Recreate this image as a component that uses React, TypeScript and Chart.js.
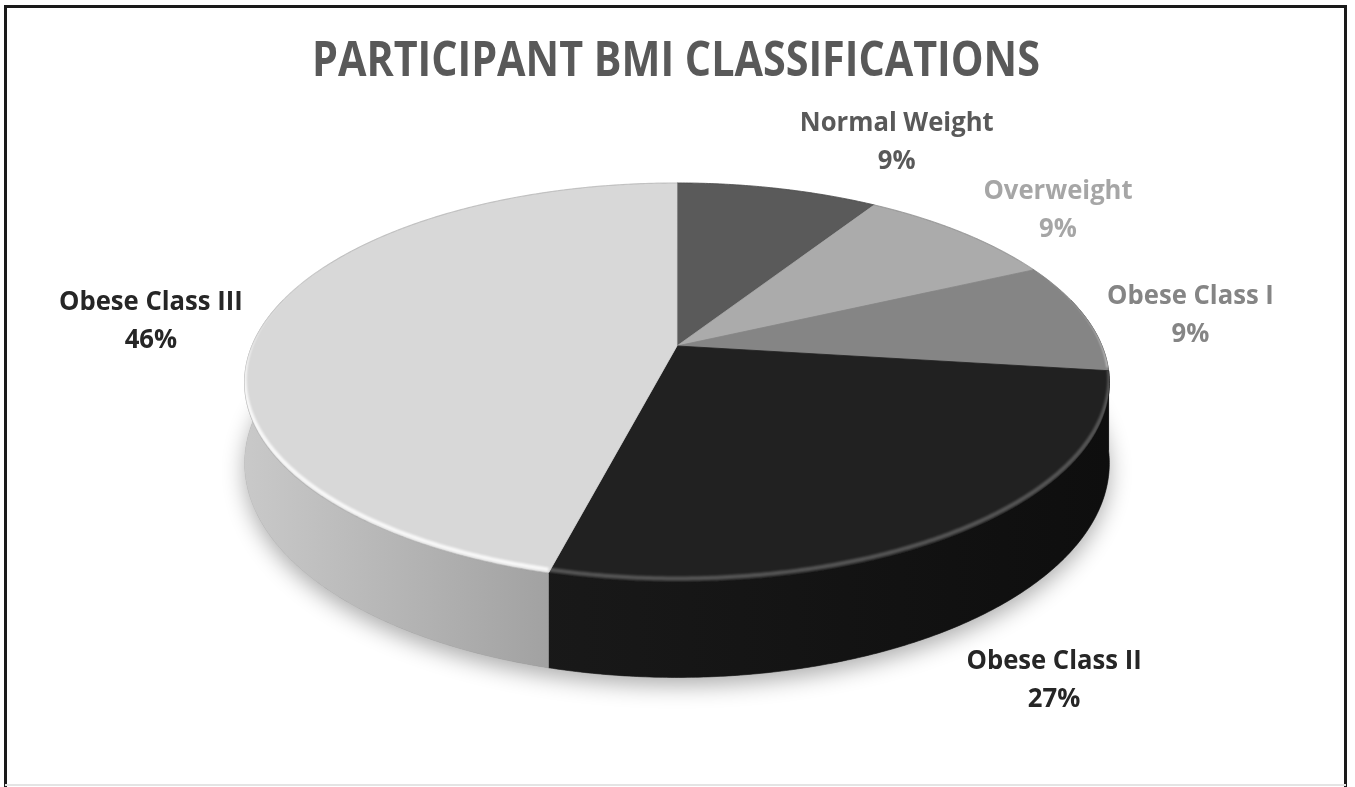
import React, { useEffect, useRef } from "react";
import { Chart, registerables } from "chart.js";

Chart.register(...registerables);

const TITLE = "PARTICIPANT BMI CLASSIFICATIONS";
const categories = ["Normal Weight", "Overweight", "Obese Class I", "Obese Class II", "Obese Class III"];
const percentages = [9, 9, 9, 27, 46];
const sliceColors = ["#5a5a5a", "#ababab", "#858585", "#212121", "#d8d8d8"];
const labelColors = ["#595959", "#a6a6a6", "#858585", "#262626", "#262626"];

const FONT = '"Open Sans", "Noto Sans", sans-serif';

function hexToRgb(h: string) {
  const n = parseInt(h.slice(1), 16);
  return [(n >> 16) & 255, (n >> 8) & 255, n & 255];
}
function shade(h: string, f: number) {
  const [r, g, b] = hexToRgb(h);
  return `rgb(${Math.round(r * f)},${Math.round(g * f)},${Math.round(b * f)})`;
}

function geo(chart: any) {
  const W = chart.width;
  const H = chart.height;
  return {
    cx: W * 0.4996,
    cy: H * 0.4396,
    A: W * 0.3137,
    B: H * 0.245,
    p: 0.183,
    D: H * 0.0991,
  };
}

function proj(g: any, phi: number) {
  const u = Math.sin(phi);
  const v = Math.cos(phi);
  const w = 1 + g.p * v;
  return { x: g.cx + (g.A * u) / w, y: g.cy - (g.B * v) / w, w };
}

function arcPoints(g: any, a0: number, a1: number, bottom = false) {
  const pts: { x: number; y: number }[] = [];
  const n = Math.max(2, Math.ceil(Math.abs(a1 - a0) / 0.008));
  for (let k = 0; k <= n; k++) {
    const a = a0 + ((a1 - a0) * k) / n;
    const P = proj(g, a);
    pts.push({ x: P.x, y: bottom ? P.y + g.D / P.w : P.y });
  }
  return pts;
}

function getArcs(chart: any) {
  const meta = chart.getDatasetMeta(0);
  return meta.data.map((el: any, i: number) => ({
    a0: el.startAngle + Math.PI / 2,
    a1: el.endAngle + Math.PI / 2,
    i,
  }));
}

function drawScaledText(ctx: CanvasRenderingContext2D, text: string, x: number, y: number, sx: number) {
  ctx.save();
  ctx.translate(x, y);
  ctx.scale(sx, 1);
  ctx.fillText(text, 0, 0);
  ctx.restore();
}

const pie3d = {
  id: "pie3d",
  beforeDraw(chart: any) {
    const ctx: CanvasRenderingContext2D = chart.ctx;
    const W = chart.width;
    const H = chart.height;
    ctx.save();
    ctx.fillStyle = "#ffffff";
    ctx.fillRect(0, 0, W, H);
    ctx.strokeStyle = "#1a1a1a";
    ctx.lineWidth = 3;
    ctx.beginPath();
    ctx.moveTo(5.5, H);
    ctx.lineTo(5.5, 6.5);
    ctx.lineTo(W - 9.5, 6.5);
    ctx.lineTo(W - 9.5, H);
    ctx.stroke();
    ctx.strokeStyle = "#e4e4e4";
    ctx.lineWidth = 2;
    ctx.beginPath();
    ctx.moveTo(5, H - 2);
    ctx.lineTo(W - 9, H - 2);
    ctx.stroke();
    ctx.restore();
  },
  beforeDatasetsDraw(chart: any) {
    const ctx: CanvasRenderingContext2D = chart.ctx;
    const g = geo(chart);
    const arcs = getArcs(chart);
    const colors = chart.data.datasets[0].backgroundColor as string[];
    const TWO = Math.PI * 2;

    ctx.save();
    // shadow under the disk
    const bottomPts = arcPoints(g, 0, TWO, true);
    ctx.beginPath();
    bottomPts.forEach((p, k) => (k ? ctx.lineTo(p.x, p.y) : ctx.moveTo(p.x, p.y)));
    ctx.closePath();
    ctx.shadowColor = "rgba(0,0,0,0.32)";
    ctx.shadowBlur = 22;
    ctx.shadowOffsetY = 8;
    ctx.fillStyle = "#888";
    ctx.fill();
    ctx.shadowColor = "transparent";
    ctx.shadowBlur = 0;
    ctx.shadowOffsetY = 0;

    // side walls
    const xl = g.cx - g.A * 1.02;
    const xr = g.cx + g.A * 1.02;
    const lo = Math.PI / 2 - 0.25;
    const hi = (3 * Math.PI) / 2 + 0.25;
    arcs.forEach((a: any) => {
      const s = Math.max(a.a0, lo);
      const e = Math.min(a.a1, hi);
      if (e <= s) return;
      const top = arcPoints(g, s, e, false);
      const bot = arcPoints(g, s, e, true).reverse();
      const c = colors[a.i];
      const grad = ctx.createLinearGradient(xl, 0, xr, 0);
      grad.addColorStop(0, shade(c, 0.93));
      grad.addColorStop(0.33, shade(c, 0.76));
      grad.addColorStop(1, shade(c, 0.42));
      ctx.beginPath();
      [...top, ...bot].forEach((p, k) => (k ? ctx.lineTo(p.x, p.y) : ctx.moveTo(p.x, p.y)));
      ctx.closePath();
      ctx.fillStyle = grad;
      ctx.fill();
      ctx.strokeStyle = grad;
      ctx.lineWidth = 0.6;
      ctx.stroke();
    });

    // top wedges
    const wedgePath = (a: any) => {
      const pts = arcPoints(g, a.a0, a.a1, false);
      ctx.beginPath();
      ctx.moveTo(g.cx, g.cy);
      pts.forEach((p) => ctx.lineTo(p.x, p.y));
      ctx.closePath();
    };
    arcs.forEach((a: any) => {
      wedgePath(a);
      ctx.fillStyle = colors[a.i];
      ctx.fill();
      ctx.strokeStyle = colors[a.i];
      ctx.lineWidth = 0.8;
      ctx.stroke();
    });

    // faint outline of the top
    const topAll = arcPoints(g, 0, TWO, false);
    ctx.beginPath();
    topAll.forEach((p, k) => (k ? ctx.lineTo(p.x, p.y) : ctx.moveTo(p.x, p.y)));
    ctx.closePath();
    ctx.strokeStyle = "rgba(0,0,0,0.12)";
    ctx.lineWidth = 1.2;
    ctx.stroke();

    // bevel rim highlight on the front edge
    const rlo = Math.PI / 2 - 0.5;
    const rhi = (3 * Math.PI) / 2 + 0.45;
    arcs.forEach((a: any) => {
      const s = Math.max(a.a0, rlo);
      const e = Math.min(a.a1, rhi);
      if (e <= s) return;
      const [r] = hexToRgb(colors[a.i]);
      const alpha = 0.18 + 0.82 * Math.pow(r / 255, 1.3);
      ctx.save();
      wedgePath(a);
      ctx.clip();
      const pts = arcPoints(g, s, e, false).map((p) => ({ x: p.x, y: p.y - 3.5 }));
      ctx.beginPath();
      pts.forEach((p, k) => (k ? ctx.lineTo(p.x, p.y) : ctx.moveTo(p.x, p.y)));
      ctx.strokeStyle = `rgba(255,255,255,${alpha})`;
      ctx.lineWidth = 4;
      ctx.filter = "blur(1.2px)";
      ctx.stroke();
      ctx.restore();
    });
    ctx.restore();
    return false;
  },
  afterDraw(chart: any) {
    const ctx: CanvasRenderingContext2D = chart.ctx;
    const g = geo(chart);
    const arcs = getArcs(chart);
    const data = chart.data.datasets[0].data as number[];
    const total = data.reduce((s: number, v: number) => s + v, 0);
    ctx.save();
    ctx.textAlign = "center";
    ctx.textBaseline = "middle";

    // title
    ctx.font = `bold 48px ${FONT}`;
    ctx.fillStyle = "#595959";
    drawScaledText(ctx, TITLE, g.cx - 1, 62, 0.86);

    // labels
    const size = 27;
    const sx = 0.95;
    const lh = 38;
    ctx.font = `bold ${size}px ${FONT}`;
    arcs.forEach((a: any) => {
      const mid = (a.a0 + a.a1) / 2;
      const P = proj(g, mid);
      const u = Math.sin(mid);
      const v = Math.cos(mid);
      const name = chart.data.labels[a.i] as string;
      const pct = `${Math.round((data[a.i] / total) * 100)}%`;
      const hw = (Math.max(ctx.measureText(name).width, ctx.measureText(pct).width) * sx) / 2;
      const hh = lh;
      const ay = P.y + (v < 0 ? g.D / P.w : 0);
      const cx = P.x + Math.sign(u) * (hw + (v < 0 ? 8 : 22));
      const cy = ay - v * Math.abs(v) * (hh + (v < 0 ? 42 : 12));
      ctx.fillStyle = labelColors[a.i];
      drawScaledText(ctx, name, cx, cy - lh / 2, sx);
      drawScaledText(ctx, pct, cx, cy + lh / 2, sx);
    });
    ctx.restore();
  },
};

export default function App() {
  const ref = useRef<HTMLCanvasElement>(null);
  useEffect(() => {
    const canvas = ref.current!;
    const chart = new Chart(canvas, {
      type: "pie",
      data: {
        labels: categories,
        datasets: [{ data: percentages, backgroundColor: sliceColors, borderWidth: 0 }],
      },
      options: {
        animation: false,
        responsive: true,
        maintainAspectRatio: false,
        events: [],
        plugins: {
          legend: { display: false },
          tooltip: { enabled: false },
          title: { display: false },
        },
      },
      plugins: [pie3d as any],
    });
    return () => chart.destroy();
  }, []);
  return (
    <div style={{ position: "fixed", left: 0, top: 0, width: 1355, height: 787, background: "#fff" }}>
      <canvas ref={ref} />
    </div>
  );
}
